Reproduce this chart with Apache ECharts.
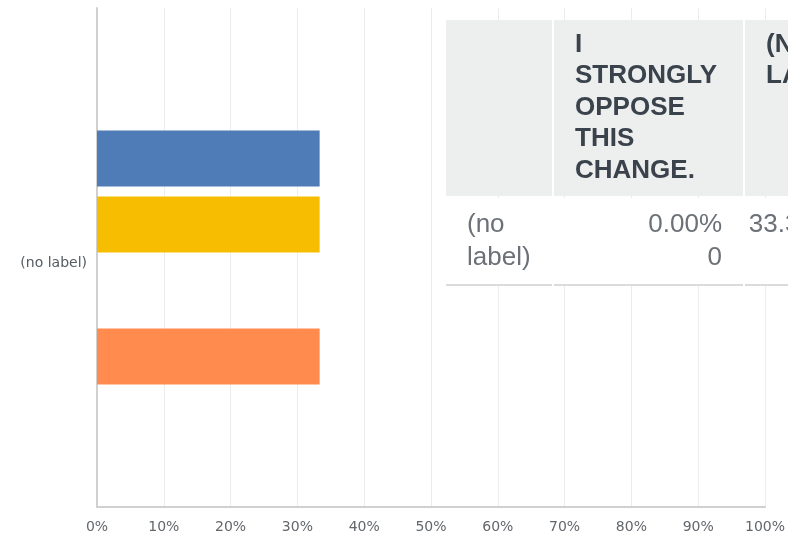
<!DOCTYPE html>
<html>
<head>
<meta charset="utf-8">
<title>Survey result</title>
<script src="https://cdn.jsdelivr.net/npm/echarts@6/dist/echarts.min.js"></script>
<style>
  html, body { margin: 0; padding: 0; background: #fff; }
  #main { width: 788px; height: 541px; }
</style>
</head>
<body>
<div id="main"></div>
<script>
// chart data
const categories = ['(no label)'];
const seriesNames = ['I strongly support this change.', 'I support this change.', 'I strongly oppose this change.', '(no label)'];
const seriesValues = [33.33, 33.33, 0, 33.33];
const xTicks = [0, 10, 20, 30, 40, 50, 60, 70, 80, 90, 100];

// table overlay data
const tableHeaders = ['', 'I STRONGLY OPPOSE THIS CHANGE.', '(NO LABEL)'];
const tableRowLabel = '(no label)';
const tablePercents = ['0.00%', '33.33%'];
const tableCounts = ['0', '1'];

const colors = ['#4f7cb6', '#f7bd00', '#6cbf8e', '#ff8b4f'];

const chart = echarts.init(document.getElementById('main'), null, { renderer: 'canvas' });

// table layout (pixels)
const colX = [446, 554, 745];
const colW = [106, 189, 113];
const headTop = 20, headBottom = 196, rowBottom = 284;

function buildTable() {
	const els = [];
	for (let i = 0; i < colX.length; i++) {
		els.push({
			type: 'rect', z: 100,
			shape: { x: colX[i], y: headTop, width: colW[i], height: headBottom - headTop },
			style: { fill: '#edeeee' }
		});
		els.push({
			type: 'rect', z: 100,
			shape: { x: colX[i], y: headBottom + 2, width: colW[i], height: rowBottom - headBottom - 2 },
			style: { fill: '#ffffff' }
		});
		els.push({
			type: 'rect', z: 100,
			shape: { x: colX[i], y: rowBottom, width: colW[i], height: 2 },
			style: { fill: '#d9dbdc' }
		});
		if (tableHeaders[i]) {
			els.push({
				type: 'text', z: 101,
				x: colX[i] + 21, y: 29,
				style: {
					text: tableHeaders[i].split(' ').join('\n'),
					font: 'bold 26px "Liberation Sans", Arial, sans-serif',
					lineHeight: 31.5,
					fill: '#3a434b'
				}
			});
		}
	}
	els.push({
		type: 'text', z: 101,
		x: colX[0] + 21, y: 208.5,
		style: {
			text: tableRowLabel.split(' ').join('\n'),
			font: '26px "Liberation Sans", Arial, sans-serif',
			lineHeight: 33,
			fill: '#6b7176'
		}
	});
	for (let j = 0; j < tablePercents.length; j++) {
		const c = j + 1;
		els.push({
			type: 'text', z: 101,
			x: colX[c] + colW[c] - 21, y: 208.5,
			style: {
				text: tablePercents[j] + '\n' + tableCounts[j],
				font: '26px "Liberation Sans", Arial, sans-serif',
				lineHeight: 33,
				align: 'right',
				fill: '#6b7176'
			}
		});
	}
	return els;
}

const option = {
	backgroundColor: '#ffffff',
	animation: false,
	grid: { left: 97, right: 21, top: 8, bottom: 34 },
	xAxis: {
		type: 'value',
		min: xTicks[0],
		max: xTicks[xTicks.length - 1],
		interval: 10,
		axisLine: { show: true, lineStyle: { color: '#d0d0d0', width: 2 } },
		axisTick: { show: false },
		splitLine: { show: true, lineStyle: { color: '#ececec', width: 1 } },
		axisLabel: {
			formatter: '{value}%',
			color: '#62676c',
			fontSize: 14,
			fontFamily: '"DejaVu Sans", sans-serif',
			margin: 13
		}
	},
	yAxis: {
		type: 'category',
		data: categories,
		inverse: true,
		axisLine: { show: true, lineStyle: { color: '#d0d0d0', width: 2 } },
		axisTick: { show: false },
		axisLabel: {
			margin: 10,
			formatter: '{a|{value}}',
			rich: {
				a: {
					color: '#555b60',
					fontSize: 14,
					fontFamily: '"DejaVu Sans", sans-serif',
					padding: [11, 0, 0, 0]
				}
			}
		}
	},
	series: seriesNames.map(function (name, i) {
		return {
			type: 'bar',
			name: name,
			data: [seriesValues[i]],
			barWidth: 56,
			barGap: '18%',
			itemStyle: { color: colors[i] }
		};
	}),
	graphic: buildTable()
};

chart.setOption(option);
</script>
</body>
</html>
